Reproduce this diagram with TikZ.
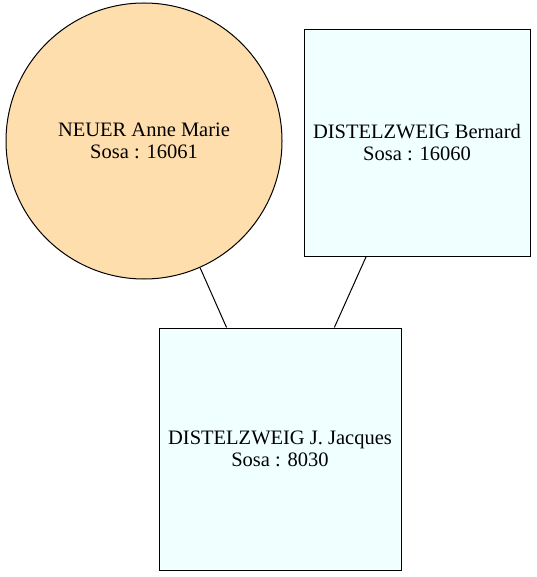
\documentclass[tikz,border=0pt]{standalone}
\usepackage{fontspec}
\setmainfont{Liberation Serif}
\usetikzlibrary{positioning}
\definecolor{womanfill}{HTML}{FFDEAD}
\definecolor{manfill}{HTML}{F0FFFF}
\tikzstyle{woman} = [circle, minimum size=276pt, inner sep=0pt, align=center, fill=womanfill, draw=black, line width=1pt]
\tikzstyle{man} = [rectangle, inner sep=0pt, align=center, fill=manfill, draw=black, line width=1pt]
\tikzstyle{link} = [line width=1pt]

\begin{document}
\begin{tikzpicture}[x=1pt, y=-1pt, font=\fontsize{20.5}{22}\selectfont]

\useasboundingbox (0,0) rectangle (536,577);

\node (anne) [woman] at (144,141) {NEUER Anne Marie\\Sosa : 16061};

\node (bernard) [man, minimum size=226pt] at (417,143) {DISTELZWEIG Bernard\\Sosa : 16060};

\node (jacques) [man, minimum size=242pt] at (280,449) {DISTELZWEIG J. Jacques\\Sosa : 8030};

\draw [link] (anne)--(jacques);
\draw [link] (bernard)--(jacques);

\end{tikzpicture}
\end{document}
